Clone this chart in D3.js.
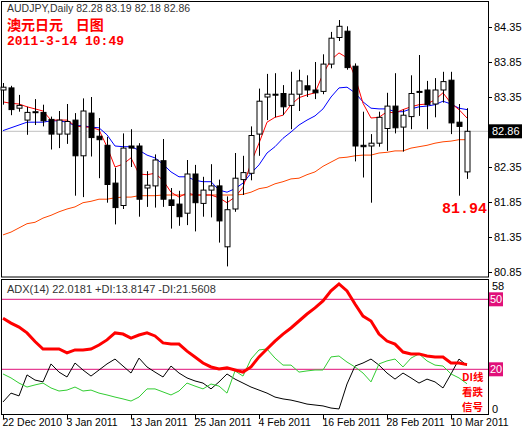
<!DOCTYPE html>
<html><head><meta charset="utf-8">
<script src="https://cdn.jsdelivr.net/npm/d3@7"></script>
<style>body{margin:0;background:#fff}svg{display:block}</style>
</head><body><svg id="c" width="526" height="434" font-family="'Liberation Sans',Arial,sans-serif"></svg>
<script>
const dates = ["22 Dec","23 Dec","24 Dec","27 Dec","28 Dec","29 Dec","30 Dec","31 Dec",
  "3 Jan","4 Jan","5 Jan","6 Jan","7 Jan","10 Jan","11 Jan","12 Jan","13 Jan","14 Jan","17 Jan","18 Jan","19 Jan","20 Jan","21 Jan","24 Jan","25 Jan","26 Jan","27 Jan","28 Jan","31 Jan",
  "1 Feb","2 Feb","3 Feb","4 Feb","7 Feb","8 Feb","9 Feb","10 Feb","11 Feb","14 Feb","15 Feb","16 Feb","17 Feb","18 Feb","21 Feb","22 Feb","23 Feb","24 Feb","25 Feb","28 Feb",
  "1 Mar","2 Mar","3 Mar","4 Mar","7 Mar","8 Mar","9 Mar","10 Mar","11 Mar","14 Mar"];
const tickDates = ["22 Dec","3 Jan","13 Jan","25 Jan","4 Feb","16 Feb","28 Feb","10 Mar"];
const tickLabels = ["22 Dec 2010","3 Jan 2011","13 Jan 2011","25 Jan 2011","4 Feb 2011","16 Feb 2011","28 Feb 2011","10 Mar 2011"];
const open  = [83.45,83.48,83.19,83.02,83.13,83.13,83.03,82.82,82.82,83.02,82.51,83.12,82.79,82.66,82.12,81.80,82.65,82.65,82.05,82.08,82.44,81.88,81.82,81.69,82.25,81.83,82.02,82.08,81.21,81.75,82.17,82.26,82.82,83.35,83.39,83.40,83.23,83.39,83.51,83.45,83.43,83.82,84.20,84.29,83.79,82.66,82.65,82.69,82.90,83.22,82.92,83.07,83.43,83.45,83.25,83.45,83.59,82.99,82.28];
const high  = [83.55,83.51,83.38,83.21,83.32,83.24,83.07,83.15,83.25,83.12,83.33,83.35,83.05,82.78,82.34,82.83,82.89,82.69,82.29,82.53,82.75,82.05,82.01,82.45,82.38,82.21,82.39,82.17,81.93,82.55,82.51,82.93,83.47,83.68,83.69,83.52,83.71,83.74,83.66,83.85,83.96,84.28,84.45,84.36,83.83,83.14,82.82,83.14,83.41,83.69,83.17,83.66,83.95,83.58,83.62,83.71,83.71,83.25,83.19];
const low   = [83.24,83.09,83.14,82.81,82.95,82.93,82.60,82.62,82.68,81.94,81.92,82.50,82.19,81.84,81.53,81.75,82.35,81.64,81.78,81.77,81.78,81.47,81.51,81.52,81.43,81.64,81.63,81.27,80.93,81.71,81.95,82.16,82.51,83.02,83.06,83.09,82.89,83.15,83.35,83.32,83.39,83.76,84.15,83.74,82.43,82.20,81.84,82.64,82.58,82.83,82.57,82.89,83.08,82.89,83.06,83.27,82.82,81.94,82.18];
const close = [83.49,83.17,83.23,83.13,83.14,83.01,82.82,83.02,83.00,82.51,83.15,82.77,82.74,82.10,81.77,82.62,82.62,81.89,82.09,82.45,81.89,81.80,81.64,82.25,81.84,82.02,82.08,81.58,81.74,82.19,82.27,82.80,83.29,83.39,83.38,83.21,83.39,83.58,83.45,83.41,83.82,84.19,84.36,83.77,82.65,82.64,82.69,83.06,83.22,82.91,83.09,83.40,83.42,83.24,83.45,83.57,82.98,82.93,82.86];
const maFast = [83.28,83.26,83.25,83.21,83.18,83.15,83.02,83.02,83.02,82.94,82.92,82.92,82.88,82.64,82.35,82.39,82.48,82.25,82.24,82.26,82.16,81.99,81.92,81.98,81.95,81.95,81.95,81.91,81.84,81.92,82.06,82.41,82.69,82.99,83.06,83.09,83.24,83.34,83.38,83.41,83.68,83.88,83.98,83.91,83.64,83.26,83.05,83.06,83.14,83.12,83.17,83.21,83.24,83.25,83.31,83.41,83.26,83.17,83.05];
const maMid = [82.87,82.91,82.95,82.99,82.99,82.99,83.01,83.01,82.99,82.94,82.94,82.92,82.91,82.81,82.65,82.64,82.64,82.59,82.52,82.48,82.39,82.28,82.21,82.21,82.16,82.14,82.14,82.02,81.99,82.04,82.12,82.26,82.38,82.55,82.64,82.76,82.85,82.95,83.02,83.08,83.18,83.35,83.48,83.49,83.41,83.28,83.19,83.18,83.18,83.14,83.14,83.18,83.21,83.22,83.24,83.29,83.25,83.19,83.17];
const maSlow = [81.38,81.42,81.48,81.54,81.56,81.62,81.66,81.71,81.75,81.78,81.84,81.86,81.89,81.89,81.91,81.92,81.92,81.94,81.94,81.94,81.95,81.95,81.95,81.95,81.95,81.95,81.95,81.95,81.95,81.95,81.96,81.99,82.04,82.06,82.11,82.14,82.18,82.19,82.24,82.28,82.36,82.42,82.48,82.49,82.51,82.52,82.52,82.55,82.56,82.58,82.58,82.62,82.64,82.66,82.69,82.71,82.72,82.74,82.74];
const adx = [41.9,39.8,38.1,35.6,31.9,28.7,28.7,28.7,27.0,28.3,28.3,28.7,30.4,32.6,35.6,35.1,33.4,34.7,35.6,34.3,31.3,30.8,30.8,27.8,25.3,22.7,21.0,20.1,20.6,19.7,18.8,21.0,25.3,28.7,32.1,35.1,37.7,40.7,43.7,46.3,49.3,53.6,56.6,53.6,48.0,42.8,40.7,35.1,32.1,30.8,27.4,26.6,26.6,25.7,25.3,25.3,22.7,22.7,22.0];
const plusDI = [18.0,16.3,14.1,12.4,13.3,14.1,12.0,10.7,11.1,12.4,10.7,11.1,9.8,9.0,8.1,7.3,6.4,8.1,11.6,11.6,10.3,9.0,10.7,14.1,12.8,11.6,13.7,12.8,9.8,19.3,17.1,24.4,28.3,28.7,24.8,21.8,21.8,18.8,19.3,19.7,19.7,25.3,25.7,23.1,21.0,18.4,14.6,22.3,23.6,24.4,21.0,24.8,26.6,23.6,21.8,21.4,18.0,16.3,13.8];
const minusDI = [6.0,9.8,8.6,17.6,15.4,14.6,22.3,18.8,16.7,22.7,19.7,17.1,19.7,22.3,24.4,21.4,18.4,24.8,21.0,18.8,16.7,21.4,18.4,16.3,15.0,14.1,11.6,14.6,18.0,15.8,14.1,12.4,11.1,9.8,8.1,7.3,6.8,6.0,5.1,4.7,4.3,3.4,3.0,13.7,21.4,22.7,24.4,21.8,18.4,15.8,18.4,16.3,14.1,15.8,14.6,12.0,18.0,24.4,21.6];
const priceTicks = [84.35,83.85,83.35,81.85,81.35,80.85,82.35];
const lastPrice = 82.86, markLow = 81.94;
const adxLevels = [50,20];

const svg = d3.select("#c");
const x = d3.scalePoint().domain(dates).range([3, 467]);
const y = d3.scaleLinear().domain([80.85, 84.35]).range([272, 27]);
const y2 = d3.scaleLinear().domain([20, 50]).range([369.3, 299.3]);

svg.append("rect").attr("x",1.5).attr("y",1.5).attr("width",487).attr("height",275.5).attr("fill","none").attr("stroke","#000");
svg.append("rect").attr("x",1.5).attr("y",279.5).attr("width",487).attr("height",135).attr("fill","none").attr("stroke","#000");

const ay = svg.append("g").attr("transform","translate(488,0)")
  .call(d3.axisRight(y).tickValues(priceTicks).tickFormat(d3.format(".2f")).tickSize(4).tickSizeOuter(0));
ay.select(".domain").remove();
ay.attr("font-family",null);
ay.selectAll("text").attr("font-size",11).attr("fill","#000").attr("x",6);

svg.append("line").attr("x1",2).attr("x2",488).attr("y1",y(lastPrice)).attr("y2",y(lastPrice)).attr("stroke","#c0c0c0");
svg.append("rect").attr("x",489).attr("y",y(lastPrice)-7).attr("width",33).attr("height",14).attr("fill","#000");
svg.append("text").attr("x",492).attr("y",y(lastPrice)+4).attr("font-size",11).attr("fill","#fff").text(lastPrice.toFixed(2));

const ma = (arr,col) => svg.append("path").datum(arr).attr("fill","none").attr("stroke",col).attr("stroke-width",1)
  .attr("d", d3.line().x((d,i)=>x(dates[i])).y(d=>y(d)));
ma(maSlow,"#ff4500"); ma(maMid,"#0000ff"); ma(maFast,"#ff0000");

const g = svg.append("g");
dates.forEach((d,i)=>{
  const cx = Math.round(x(d))+0.5;
  g.append("line").attr("x1",cx).attr("x2",cx).attr("y1",y(high[i])).attr("y2",y(low[i])).attr("stroke","#000");
  const top = y(Math.max(open[i],close[i])), bot = y(Math.min(open[i],close[i]));
  g.append("rect").attr("x",cx-2.5).attr("y",top).attr("width",5).attr("height",Math.max(bot-top,1))
    .attr("fill", close[i]>=open[i] ? "#fff" : "#000").attr("stroke","#000");
});

svg.append("text").attr("x",7).attr("y",12).attr("font-size",10.5).attr("fill","#333").text("AUDJPY,Daily  82.28 83.19 82.18 82.86");
svg.append("text").attr("x",7).attr("y",30).attr("font-size",14).attr("font-weight","bold").attr("fill","#f00")
  .attr("font-family","'Noto Sans CJK SC'").attr("xml:space","preserve").text("澳元日元    日图");
svg.append("text").attr("x",7).attr("y",45).attr("font-size",13).attr("font-weight","bold").attr("fill","#f00")
  .attr("font-family","'Liberation Mono',monospace").text("2011-3-14 10:49");
svg.append("text").attr("x",487).attr("y",213).attr("text-anchor","end").attr("font-size",15).attr("font-weight","bold").attr("fill","#f00")
  .attr("font-family","'Liberation Mono',monospace").text(markLow.toFixed(2));

adxLevels.forEach(v=>{
  svg.append("line").attr("x1",2).attr("x2",488).attr("y1",y2(v)).attr("y2",y2(v)).attr("stroke","#e0107a");
  svg.append("rect").attr("x",489).attr("y",y2(v)-7).attr("width",14).attr("height",14).attr("fill","#e0107a");
  svg.append("text").attr("x",490).attr("y",y2(v)+4).attr("font-size",11).attr("fill","#fff").text(v);
});
svg.append("text").attr("x",492).attr("y",290).attr("font-size",11).attr("fill","#000").text("58");
svg.append("text").attr("x",492).attr("y",413).attr("font-size",11).attr("fill","#000").text("0");
const ln = d3.line().x((d,i)=>x(dates[i])).y(d=>y2(d));
svg.append("path").datum(minusDI).attr("fill","none").attr("stroke","#000").attr("d",ln);
svg.append("path").datum(plusDI).attr("fill","none").attr("stroke","#32cd32").attr("d",ln);
svg.append("path").datum(adx).attr("fill","none").attr("stroke","#f00").attr("stroke-width",3).attr("d",ln);
svg.append("text").attr("x",7).attr("y",293).attr("font-size",11).attr("fill","#333").text("ADX(14) 22.0181 +DI:13.8147 -DI:21.5608");
["DI线","看跌","信号"].forEach((t,i)=>svg.append("text").attr("x",462).attr("y",381+i*15).attr("font-size",10.5)
  .attr("font-weight","bold").attr("fill","#f00").attr("font-family","'Noto Sans CJK SC'").text(t));

const ax = svg.append("g").attr("transform","translate(0,415)")
  .call(d3.axisBottom(x).tickValues(tickDates).tickFormat((d,i)=>tickLabels[i]).tickSize(4).tickSizeOuter(0));
ax.select(".domain").remove();
ax.attr("font-family",null);
ax.selectAll("text").attr("font-size",10.5).attr("fill","#000").attr("dy","0.4em").attr("text-anchor","start").attr("x",-1);
</script></body></html>
